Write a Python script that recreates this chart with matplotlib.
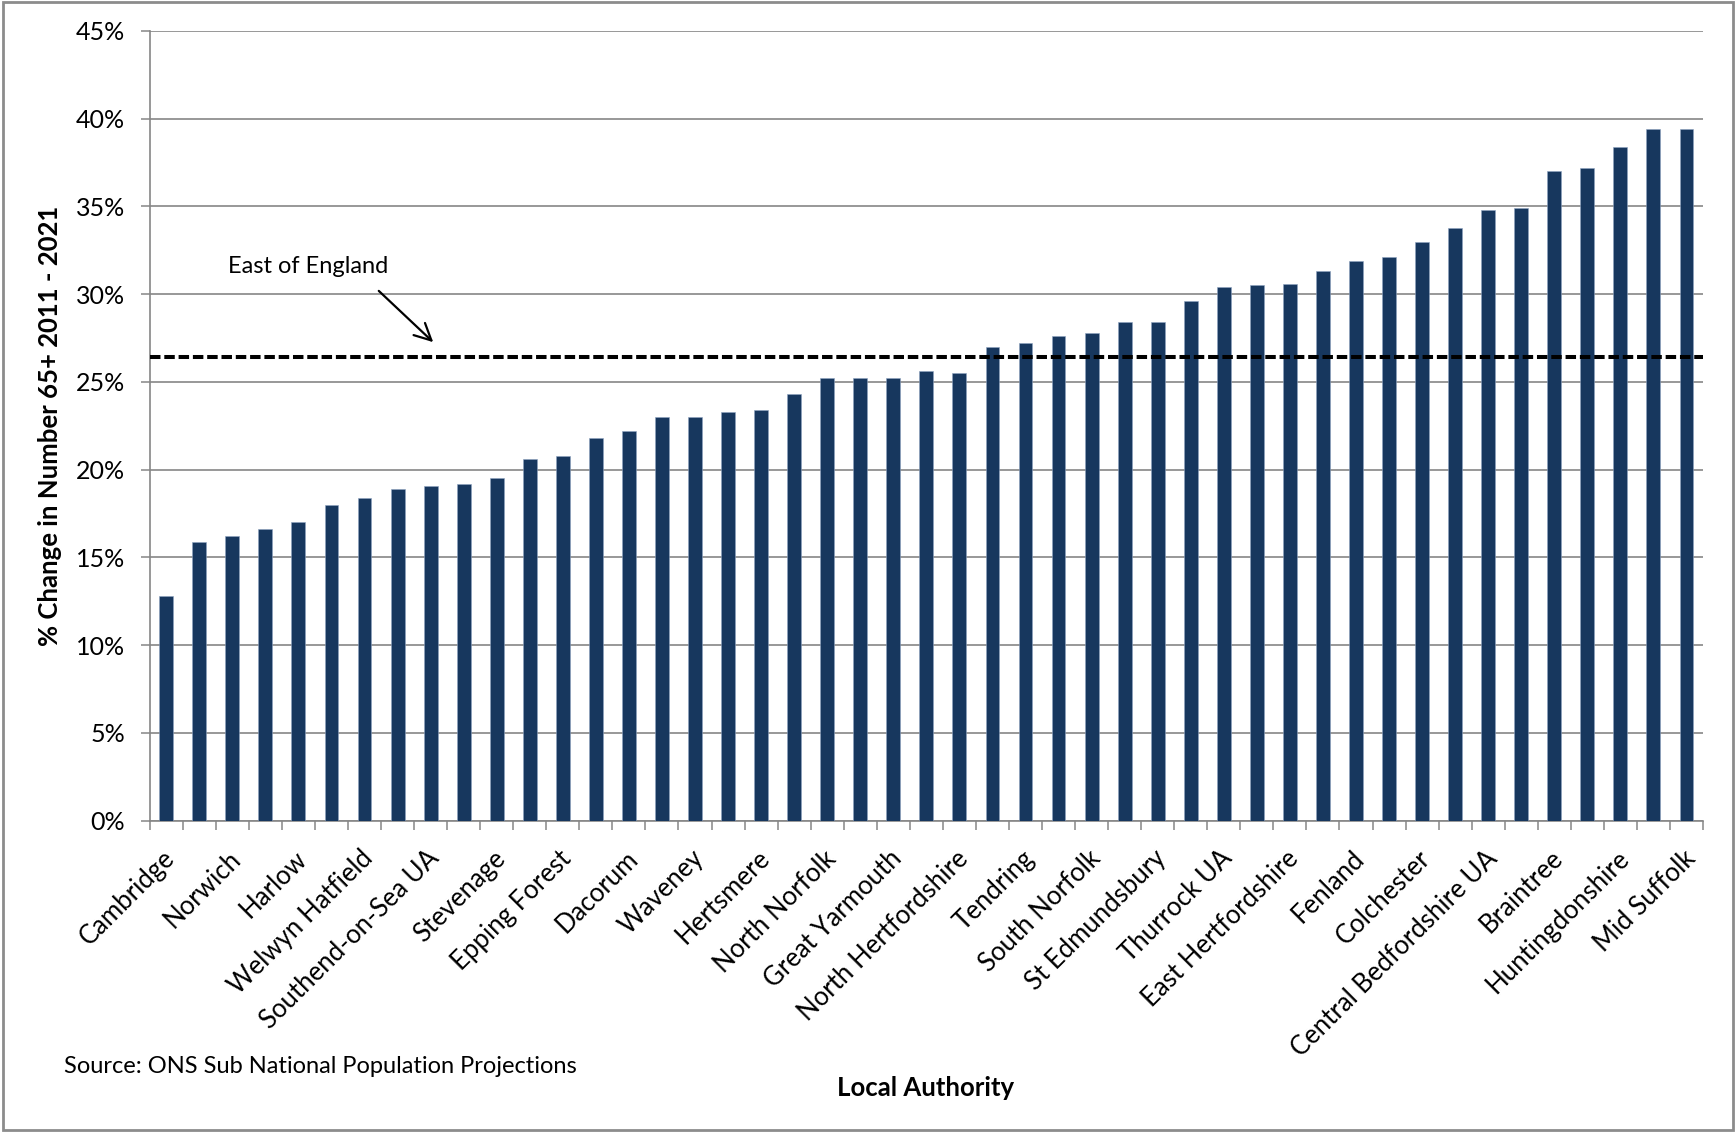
import numpy as np
import matplotlib.pyplot as plt
from matplotlib.patches import Rectangle
from matplotlib.ticker import FuncFormatter
from matplotlib.transforms import ScaledTranslation

plt.rcParams['font.family'] = ['Lato', 'DejaVu Sans']

# local authorities, sorted by projected growth in the 65+ population
authorities = [
    'Cambridge', 'Luton UA', 'Norwich', 'Watford', 'Harlow', 'Ipswich',
    'Welwyn Hatfield', 'St Albans', 'Southend-on-Sea UA', 'Peterborough UA',
    'Stevenage', 'Broxbourne', 'Epping Forest', 'Three Rivers', 'Dacorum',
    'Brentwood', 'Waveney', 'Basildon', 'Hertsmere', 'Bedford UA',
    'North Norfolk', 'Chelmsford', 'Great Yarmouth', 'Forest Heath',
    'North Hertfordshire', "King's Lynn and West Norfolk", 'Tendring',
    'Breckland', 'South Norfolk', 'Castle Point', 'St Edmundsbury',
    'Rochford', 'Thurrock UA', 'Broadland', 'East Hertfordshire',
    'Suffolk Coastal', 'Fenland', 'Babergh', 'Colchester', 'Maldon',
    'Central Bedfordshire UA', 'Uttlesford', 'Braintree',
    'East Cambridgeshire', 'Huntingdonshire', 'South Cambridgeshire',
    'Mid Suffolk',
]
change_65plus = [
    12.8, 15.9, 16.2, 16.6, 17.0, 18.0, 18.4, 18.9, 19.1, 19.2,
    19.5, 20.6, 20.8, 21.8, 22.2, 23.0, 23.0, 23.3, 23.4, 24.3,
    25.2, 25.2, 25.2, 25.6, 25.5, 27.0, 27.2, 27.6, 27.8, 28.4,
    28.4, 29.6, 30.4, 30.5, 30.6, 31.3, 31.9, 32.1, 33.0, 33.8,
    34.8, 34.9, 37.0, 37.2, 38.4, 39.4, 39.4,
]
east_of_england = 26.4

W, H = 1735, 1132
fig = plt.figure(figsize=(W / 100, H / 100), dpi=100)
ax = fig.add_axes([149.7 / W, 1 - 820.7 / H, (1703 - 149.7) / W, (820.7 - 31) / H])

grey = '#868686'
x = np.arange(len(authorities))
ax.bar(x, change_65plus, width=0.42, color='#17375E', edgecolor='#8ea3c0',
       linewidth=0.4, zorder=3)
ax.axhline(east_of_england, color='black', lw=2.9, ls=(0, (2.6, 0.95)), zorder=4)

ax.set_xlim(-0.5, len(x) - 0.5)
ax.set_ylim(0, 45)
ax.set_yticks(np.arange(0, 46, 5))
ax.yaxis.set_major_formatter(FuncFormatter(lambda v, p: f'{v:.0f}%'))
ax.yaxis.grid(True, color=grey, lw=1.2, zorder=0)
ax.tick_params(axis='y', direction='out', length=6.8, width=1.1, color=grey,
               labelsize=18, pad=11)

# every other authority is labelled, tick marks sit between categories
ax.set_xticks(x[::2])
ax.set_xticklabels(authorities[::2], rotation=45, ha='right', va='top',
                   rotation_mode='anchor', fontsize=18.5)
ax.set_xticks(np.arange(-0.5, len(x), 1), minor=True)
ax.tick_params(axis='x', which='major', length=0, pad=18)
ax.tick_params(axis='x', which='minor', direction='out', length=6.8,
               width=1.1, color=grey)
shift = ScaledTranslation(-4 / 100, 0, fig.dpi_scale_trans)
for lab in ax.get_xticklabels():
    lab.set_transform(lab.get_transform() + shift)

for side in ['top', 'right']:
    ax.spines[side].set_visible(False)
for side in ['left', 'bottom']:
    ax.spines[side].set_color(grey)
    ax.spines[side].set_linewidth(1.2)

ax.annotate('', xy=(8.14, 27.16), xytext=(6.37, 30.3),
            arrowprops=dict(arrowstyle='->,head_length=0.6,head_width=0.3',
                            mutation_scale=20, color='black', lw=1.6),
            zorder=5)
ax.text(4.28, 31.58, 'East of England', ha='center', va='center', fontsize=17)

fig.text(50 / W, 1 - 425.5 / H, '% Change in Number 65+ 2011 - 2021',
         rotation=90, ha='center', va='center', fontsize=18.5, fontweight='bold')
fig.text(926 / W, 1 - 1088 / H, 'Local Authority', ha='center', va='center',
         fontsize=18.5, fontweight='bold')
fig.text(64 / W, 1 - 1066.7 / H, 'Source: ONS Sub National Population Projections',
         ha='left', va='center', fontsize=17)

fig.patches.append(Rectangle((3 / W, 2 / H), 1730 / W, 1128 / H,
                             transform=fig.transFigure, fill=False,
                             edgecolor='#8c8c8c', lw=2))

fig.savefig('out.png', dpi=100)
